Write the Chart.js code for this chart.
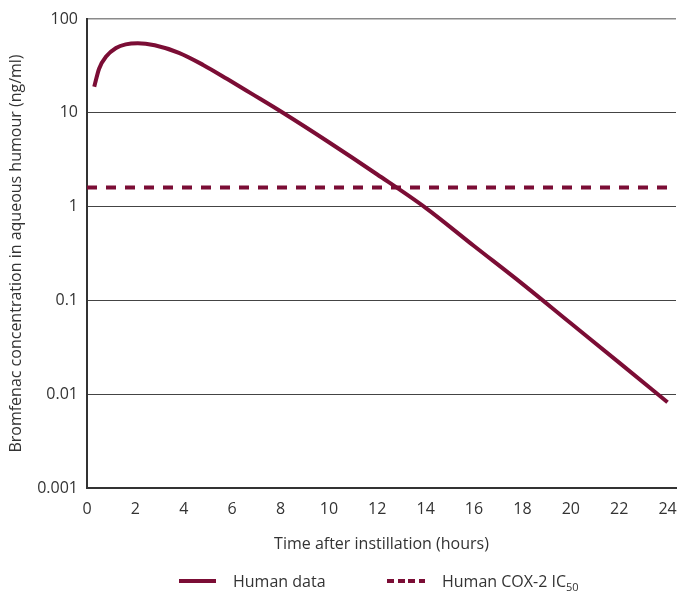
<!DOCTYPE html>
<html>
<head>
<meta charset="utf-8">
<script src="https://cdn.jsdelivr.net/npm/chart.js@4/dist/chart.umd.min.js"></script>
<style>
  html, body { margin: 0; padding: 0; background: #fff; }
  #wrap { position: relative; width: 690px; height: 596px; }
  #c { position: absolute; left: 0; top: 0; }
  .leg { position: absolute; top: 570px; height: 22px; display: flex; align-items: center;
         font-family: "Open Sans", "Noto Sans", sans-serif; font-size: 16px; color: #333; }
  .leg .s { width: 37px; height: 4px; background: #7B0D35; margin-right: 17px; }
  .leg .s.d { width: 38px; background: repeating-linear-gradient(90deg,#7B0D35 0 7px,transparent 7px 10.5px); }
  .leg sub { font-size: 11px; vertical-align: -4px; line-height: 0; }
</style>
</head>
<body>
<div id="wrap">
  <canvas id="c" width="690" height="596"></canvas>
  <div class="leg" style="left:179px"><span class="s"></span><span>Human data</span></div>
  <div class="leg" style="left:387px"><span class="s d"></span><span>Human COX-2 IC<sub>50</sub></span></div>
</div>
<script>
const timeHours = [0.3, 0.5, 0.8, 1.2, 1.6, 2.1, 2.8, 3.8, 4.8, 5.8, 6.8, 8.1, 10, 12, 14, 16, 18, 20, 22, 24];
const concentration = [19.0, 29.5, 40, 49, 53.7, 55.3, 52.5, 43.6, 32.4, 22.9, 16.0, 10, 4.85, 2.2, 0.97, 0.38, 0.15, 0.057, 0.0217, 0.0082];
const ic50Time = [0, 24];
const ic50Value = [1.6, 1.6];
const xTicks = [0, 2, 4, 6, 8, 10, 12, 14, 16, 18, 20, 22, 24];
const yTicks = [0.001, 0.01, 0.1, 1, 10, 100];
const yTickLabels = ["0.001", "0.01", "0.1", "1", "10", "100"];
const seriesNames = ["Human data", "Human COX-2 IC50"];

const maroon = '#7B0D35';
const tickFont = { family: '"Open Sans", "Noto Sans", sans-serif', size: 16 };
const titleFont = { family: '"Open Sans", "Noto Sans", sans-serif', size: 16 };

new Chart(document.getElementById('c'), {
  type: 'line',
  data: {
    datasets: [
      {
        label: seriesNames[0],
        data: timeHours.map((t, i) => ({ x: t, y: concentration[i] })),
        borderColor: maroon,
        borderWidth: 4,
        pointRadius: 0,
        cubicInterpolationMode: 'monotone',
        borderJoinStyle: 'round',
        fill: false
      },
      {
        label: seriesNames[1],
        data: ic50Time.map((t, i) => ({ x: t, y: ic50Value[i] })),
        borderColor: maroon,
        borderWidth: 4,
        borderDash: [10, 9],
        pointRadius: 0,
        fill: false
      }
    ]
  },
  options: {
    responsive: false,
    animation: false,
    devicePixelRatio: 1,
    layout: { padding: { top: 19, right: 14, bottom: 38, left: 0 } },
    plugins: { legend: { display: false }, tooltip: { enabled: false } },
    scales: {
      x: {
        type: 'linear',
        min: 0,
        max: 24.35,
        afterBuildTicks: s => { s.ticks = xTicks.map(v => ({ value: v })); },
        afterFit: s => { s.height = 70; },
        ticks: { color: '#333', font: tickFont, padding: 12, maxRotation: 0, autoSkip: false },
        grid: { display: false, drawTicks: false },
        border: { display: true, color: '#333', width: 2 },
        title: { display: true, text: 'Time after instillation (hours)', color: '#333', font: titleFont, padding: { top: 13 } }
      },
      y: {
        type: 'logarithmic',
        min: 0.001,
        max: 100,
        afterBuildTicks: s => { s.ticks = yTicks.map(v => ({ value: v })); },
        afterFit: s => { s.width = 87; },
        ticks: {
          color: '#333', font: tickFont, padding: 9, autoSkip: false,
          callback: (v) => { const i = yTicks.indexOf(v); return i >= 0 ? yTickLabels[i] : ''; }
        },
        grid: {
          drawTicks: false,
          color: ctx => (ctx.tick && ctx.tick.value === 100) ? '#8a8a8a' : '#444',
          lineWidth: ctx => (ctx.tick && ctx.tick.value === 100) ? 1.5 : 1
        },
        border: { display: true, color: '#333', width: 2 },
        title: { display: true, text: 'Bromfenac concentration in aqueous humour (ng/ml)', color: '#333', font: titleFont, padding: { top: 7, bottom: 4 } }
      }
    }
  }
});
</script>
</body>
</html>
